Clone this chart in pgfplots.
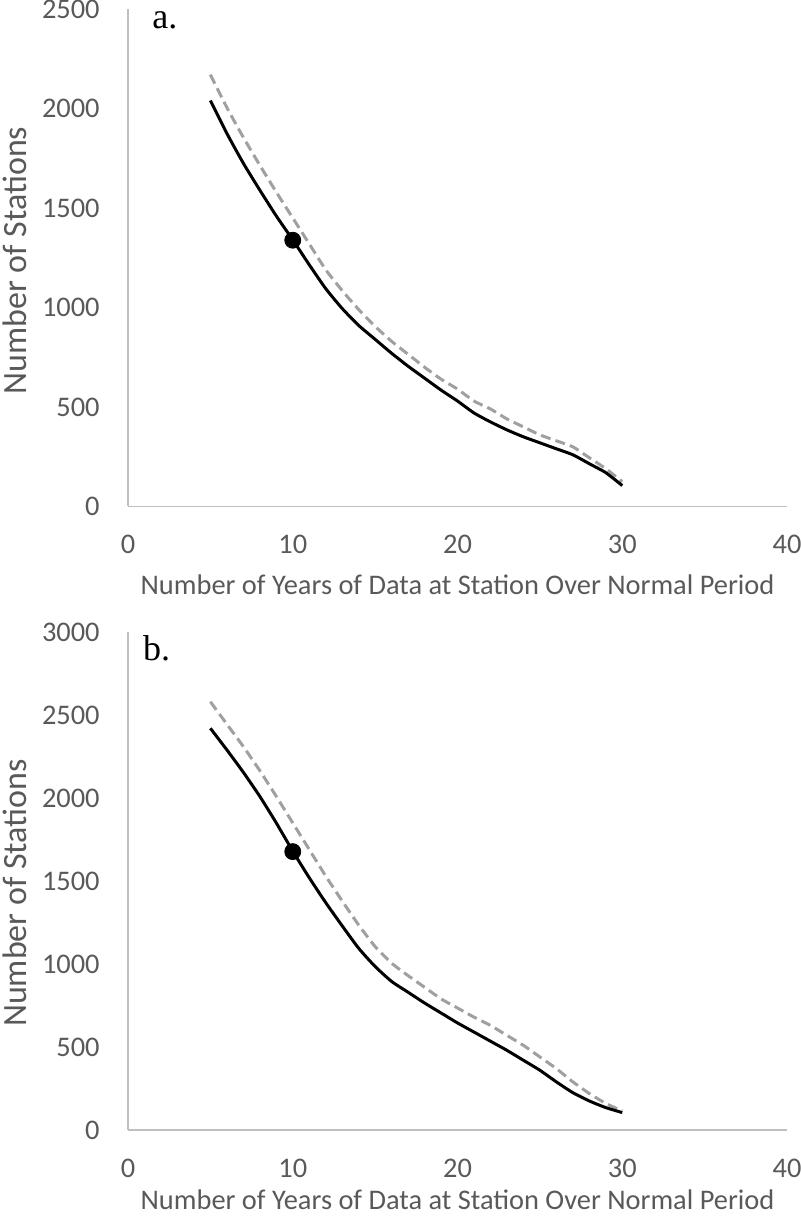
\documentclass[border=0pt]{standalone}
\usepackage{pgfplots}
\pgfplotsset{compat=1.18}
\usepackage{fontspec}
\setmainfont{Carlito}
\newfontfamily\seriffont{Liberation Serif}
\definecolor{tickgray}{HTML}{595959}
\definecolor{axgray}{HTML}{BFBFBF}
\definecolor{dashgray}{HTML}{A0A0A0}
\begin{document}
\begin{tikzpicture}
\pgfplotsset{
  panel/.style={
    scale only axis,
    width=329.5pt,
    xmin=0, xmax=40,
    xtick={0,10,20,30,40},
    axis x line=bottom, axis y line=left,
    axis line style={-, draw=axgray, line width=0.6pt},
    major tick length=0pt,
    tick label style={font=\fontsize{14.2}{16}\selectfont, text=tickgray},
    /pgf/number format/assume math mode=true,
    /pgf/number format/1000 sep={},
    yticklabel style={anchor=east, inner sep=0pt, xshift=-14pt},
    xticklabel style={anchor=base, inner sep=0pt, yshift=-23.75pt},
    label style={text=tickgray},
    clip=false,
  },
  solidline/.style={black, line width=1.5pt, line join=round, smooth, tension=0.35},
  dashline/.style={dashgray, line width=1.5pt, dash pattern=on 5pt off 2.6pt, smooth, tension=0.35},
  dotmark/.style={only marks, mark=*, mark size=4pt, black},
}
\begin{axis}[panel, at={(0,0)}, height=248.75pt,
  ymin=0, ymax=2500, ytick={0,500,1000,1500,2000,2500},
  xlabel={Number of Years of Data at Station Over Normal Period},
  ylabel={Number of Stations},
  xlabel style={at={([yshift=-39.25pt]axis description cs:0.5,0)}, anchor=center, font=\fontsize{14.2}{16}\selectfont},
  ylabel style={at={([xshift=-56.5pt,yshift=-1.5pt]axis description cs:0,0.5)}, anchor=center, rotate=0, font=\fontsize{17}{19}\selectfont},
]
\addplot[dashline] coordinates {
(5,2170)(6,2005)(7,1855)(8,1715)(9,1580)(10,1450)(11,1320)(12,1190)(13,1085)(14,990)
(15,905)(16,830)(17,765)(18,700)(19,640)(20,590)(21,530)(22,490)(23,440)(24,400)
(25,360)(26,330)(27,300)(28,245)(29,190)(30,125)};
\addplot[solidline] coordinates {
(5,2040)(6,1875)(7,1725)(8,1590)(9,1460)(10,1340)(11,1215)(12,1095)(13,995)(14,910)
(15,840)(16,770)(17,705)(18,645)(19,585)(20,530)(21,470)(22,425)(23,385)(24,350)
(25,320)(26,290)(27,260)(28,215)(29,170)(30,105)};
\addplot[dotmark] coordinates {(10,1338)};
\node[anchor=base west, inner sep=0pt, font=\seriffont\fontsize{18}{20}\selectfont] at (axis cs:1.45,2400) {a.};
\end{axis}
\begin{axis}[panel, at={(0,-311.75pt)}, height=249pt,
  ymin=0, ymax=3000, ytick={0,500,1000,1500,2000,2500,3000},
  xlabel={Number of Years of Data at Station Over Normal Period},
  ylabel={Number of Stations},
  xlabel style={at={([yshift=-35pt]axis description cs:0.5,0)}, anchor=center, font=\fontsize{14.2}{16}\selectfont},
  ylabel style={at={([xshift=-56.5pt,yshift=-6pt]axis description cs:0,0.5)}, anchor=center, rotate=0, font=\fontsize{17}{19}\selectfont},
]
\addplot[dashline] coordinates {
(5,2580)(6,2445)(7,2310)(8,2165)(9,2010)(10,1850)(11,1690)(12,1530)(13,1380)(14,1235)
(15,1105)(16,1005)(17,930)(18,860)(19,790)(20,735)(21,680)(22,630)(23,570)(24,510)
(25,440)(26,370)(27,290)(28,220)(29,160)(30,115)};
\addplot[solidline] coordinates {
(5,2420)(6,2290)(7,2155)(8,2010)(9,1850)(10,1680)(11,1520)(12,1370)(13,1230)(14,1095)
(15,985)(16,895)(17,830)(18,765)(19,705)(20,645)(21,590)(22,535)(23,480)(24,420)
(25,360)(26,290)(27,225)(28,175)(29,135)(30,105)};
\addplot[dotmark] coordinates {(10,1677)};
\node[anchor=base west, inner sep=0pt, font=\seriffont\fontsize{18}{20}\selectfont] at (axis cs:0.9,2830) {b.};
\end{axis}
\pgfresetboundingbox
\useasboundingbox (-64pt,-355.75pt) rectangle (336pt,253.25pt);
\end{tikzpicture}
\end{document}
